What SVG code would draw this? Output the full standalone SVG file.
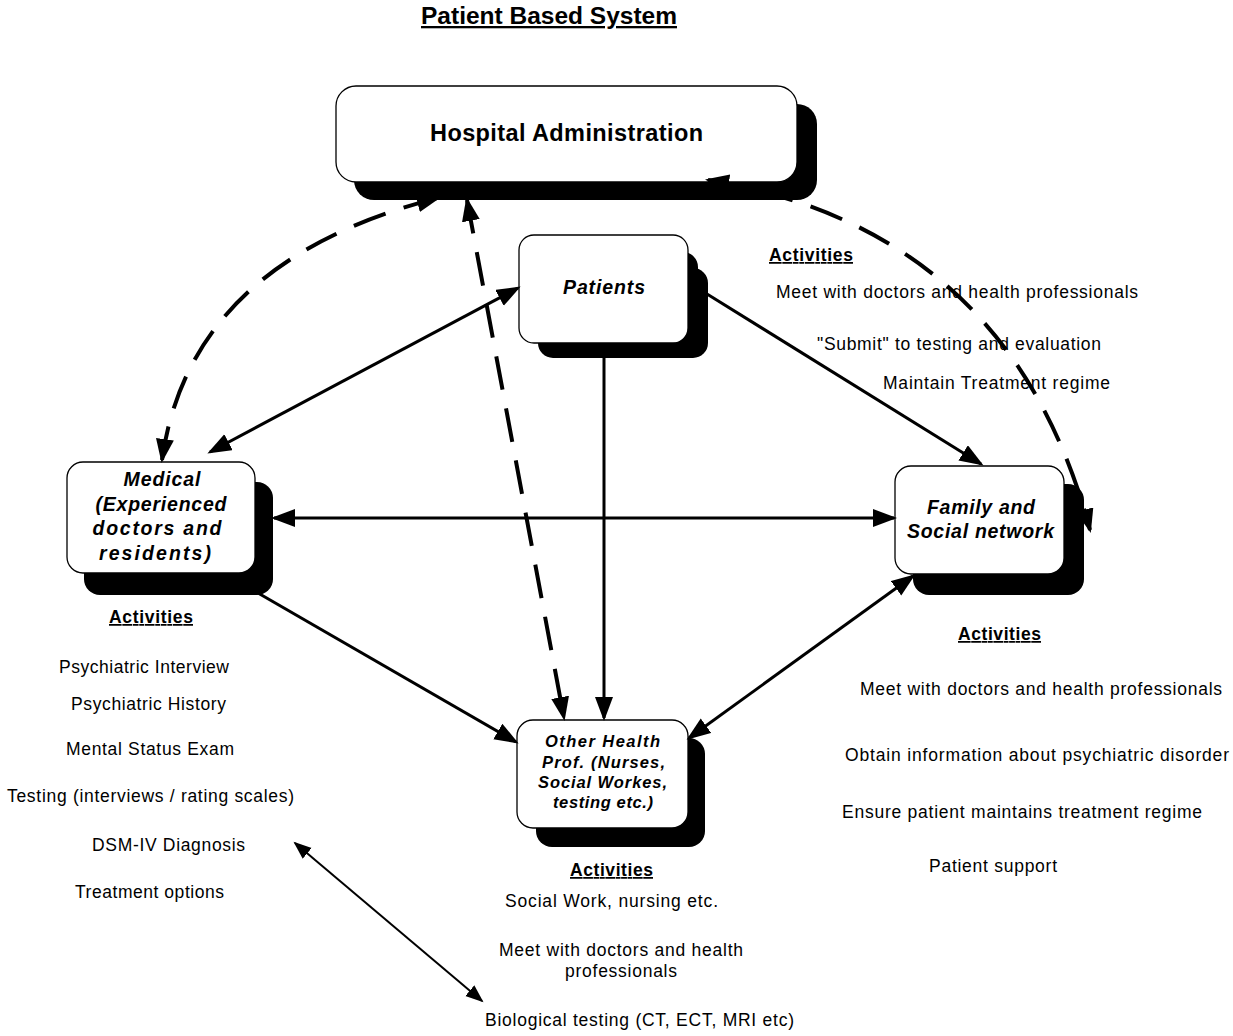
<svg xmlns="http://www.w3.org/2000/svg" width="1233" height="1036" viewBox="0 0 1233 1036">
  <style>
    text { font-family: "Liberation Sans", Arial, sans-serif; fill: #000; }
    .title { font-size: 23px; font-weight: bold; text-decoration: underline; }
    .head { font-size: 17.5px; font-weight: bold; text-decoration: underline; }
    .item { font-size: 17.5px; }
    .node { font-size: 19.5px; font-weight: bold; font-style: italic; }
    .node-sm { font-size: 16.5px; font-weight: bold; font-style: italic; }
    .box { fill: #fff; stroke: #000; stroke-width: 1.3; }
    .shadow { fill: #000; }
    .solid { fill: none; stroke: #000; stroke-width: 3; }
    .dash { fill: none; stroke: #000; stroke-width: 4; stroke-dasharray: 34 19; }
    .thin { fill: none; stroke: #000; stroke-width: 2; }
  </style>
  <defs>
    <marker id="head" markerUnits="userSpaceOnUse" markerWidth="30" markerHeight="24" refX="21" refY="9" orient="auto-start-reverse">
      <path d="M0,0 L24,9 L0,18 z" fill="#000"/>
    </marker>
    <marker id="headSmall" markerUnits="userSpaceOnUse" markerWidth="24" markerHeight="18" refX="16" refY="7" orient="auto-start-reverse">
      <path d="M0,0 L18,7 L0,14 z" fill="#000"/>
    </marker>
  </defs>

  <rect width="1233" height="1036" fill="#fff"/>

  <text class="title" x="549" y="24" text-anchor="middle" textLength="256" lengthAdjust="spacingAndGlyphs">Patient Based System</text>

  <g id="hospital-administration">
    <rect class="shadow" x="354" y="104" width="463" height="96" rx="20"/>
    <rect class="box" x="336" y="86" width="461" height="96" rx="20"/>
    <text x="566.5" y="141" text-anchor="middle" font-size="23.5" font-weight="bold" textLength="273">Hospital Administration</text>
  </g>

  <g id="patients">
    <rect class="shadow" x="538" y="252" width="160" height="106" rx="15"/>
    <rect class="shadow" x="548" y="268" width="160" height="90" rx="15"/>
    <rect class="box" x="519" y="235" width="169" height="108" rx="15"/>
    <text class="node" x="604" y="294" text-anchor="middle" textLength="82">Patients</text>
  </g>

  <g id="medical">
    <rect class="shadow" x="84" y="482" width="189" height="113" rx="16"/>
    <rect class="box" x="67" y="462" width="188" height="111" rx="16"/>
    <text class="node" x="162" y="486" text-anchor="middle" textLength="77">Medical</text>
    <text class="node" x="161" y="511" text-anchor="middle" textLength="131">(Experienced</text>
    <text class="node" x="157" y="535" text-anchor="middle" textLength="129">doctors and</text>
    <text class="node" x="155" y="559.5" text-anchor="middle" textLength="112">residents)</text>
  </g>

  <g id="family-social-network">
    <rect class="shadow" x="913" y="484" width="171" height="111" rx="16"/>
    <rect class="box" x="895" y="466" width="169" height="108" rx="16"/>
    <text class="node" x="981" y="514" text-anchor="middle" textLength="108">Family and</text>
    <text class="node" x="980.5" y="538" text-anchor="middle" textLength="147">Social network</text>
  </g>

  <g id="other-health-prof">
    <rect class="shadow" x="536" y="738" width="169" height="109" rx="16"/>
    <rect class="box" x="517" y="720" width="171" height="108" rx="16"/>
    <text class="node-sm" x="602.5" y="747" text-anchor="middle" textLength="115">Other  Health</text>
    <text class="node-sm" x="603.5" y="767.5" text-anchor="middle" textLength="123">Prof. (Nurses,</text>
    <text class="node-sm" x="602.5" y="788" text-anchor="middle" textLength="129">Social Workes,</text>
    <text class="node-sm" x="603" y="808" text-anchor="middle" textLength="100">testing etc.)</text>
  </g>

  <g id="connectors">
    <path class="solid" d="M210,452 L518,288" marker-start="url(#head)" marker-end="url(#head)"/>
    <path class="solid" d="M274,518 L894,518" marker-start="url(#head)" marker-end="url(#head)"/>
    <path class="solid" d="M707,294 L981,464" marker-end="url(#head)"/>
    <path class="solid" d="M604,358 L604,718" marker-end="url(#head)"/>
    <path class="solid" d="M258,593 L516,742" marker-end="url(#head)"/>
    <path class="solid" d="M689,738 L913,576" marker-start="url(#head)" marker-end="url(#head)"/>
    <path class="dash" d="M162,460 Q190,261 438,198" marker-start="url(#head)" marker-end="url(#head)"/>
    <path class="dash" d="M467,200 L564,718" marker-start="url(#head)" marker-end="url(#head)"/>
    <path class="dash" d="M708,180 Q1010,230 1090,530" marker-start="url(#head)" marker-end="url(#head)"/>
    <path class="thin" d="M295,843 L482,1001" marker-start="url(#headSmall)" marker-end="url(#headSmall)"/>
  </g>

  <g id="patient-activities">
    <text class="head" x="811" y="261" text-anchor="middle" textLength="84">Activities</text>
    <text class="item" x="776" y="298" textLength="362">Meet with doctors and health professionals</text>
    <text class="item" x="817" y="350" textLength="284">"Submit" to testing and evaluation</text>
    <text class="item" x="883" y="389" textLength="227">Maintain Treatment regime</text>
  </g>

  <g id="medical-activities">
    <text class="head" x="151" y="623" text-anchor="middle" textLength="84">Activities</text>
    <text class="item" x="59" y="673" textLength="170">Psychiatric Interview</text>
    <text class="item" x="71" y="710" textLength="155">Psychiatric History</text>
    <text class="item" x="66" y="755" textLength="168">Mental Status Exam</text>
    <text class="item" x="7" y="802" textLength="287">Testing (interviews / rating scales)</text>
    <text class="item" x="92" y="851" textLength="153">DSM-IV Diagnosis</text>
    <text class="item" x="75" y="898" textLength="149">Treatment options</text>
  </g>

  <g id="family-activities">
    <text class="head" x="999.5" y="640" text-anchor="middle" textLength="83">Activities</text>
    <text class="item" x="860" y="695" textLength="362">Meet with doctors and health professionals</text>
    <text class="item" x="845" y="761" textLength="384">Obtain information  about psychiatric disorder</text>
    <text class="item" x="842" y="818" textLength="360">Ensure patient maintains treatment regime</text>
    <text class="item" x="929" y="872" textLength="128">Patient support</text>
  </g>

  <g id="other-health-activities">
    <text class="head" x="611.5" y="876" text-anchor="middle" textLength="83">Activities</text>
    <text class="item" x="505" y="907" textLength="213">Social Work, nursing etc.</text>
    <text class="item" x="499" y="956" textLength="244">Meet with doctors and health</text>
    <text class="item" x="565" y="977" textLength="112">professionals</text>
    <text class="item" x="485" y="1026" textLength="309">Biological testing (CT, ECT, MRI etc)</text>
  </g>
</svg>
